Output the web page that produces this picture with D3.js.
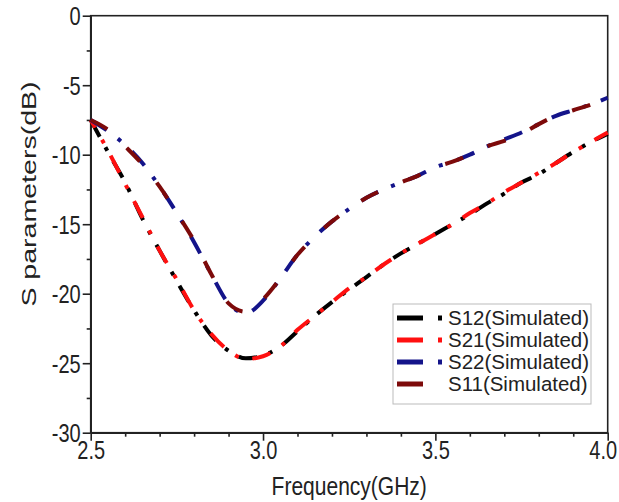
<!DOCTYPE html>
<html>
<head>
<meta charset="utf-8">
<script src="https://cdn.jsdelivr.net/npm/d3@7"></script>
<style>
  html, body { margin: 0; padding: 0; background: #fff; }
  svg { display: block; }
  text { font-family: "Liberation Sans", Arial, sans-serif; fill: #222; }
</style>
</head>
<body>
<svg id="chart" width="619" height="502"></svg>
<script>
// ---- data ----
const freq = [2.50, 2.55, 2.60, 2.65, 2.70, 2.75, 2.80, 2.85, 2.90, 2.95, 3.00,
              3.05, 3.10, 3.15, 3.20, 3.25, 3.30, 3.35, 3.40, 3.45, 3.50,
              3.55, 3.60, 3.65, 3.70, 3.75, 3.80, 3.85, 3.90, 3.95, 4.00];
const s12 = [-7.5, -9.8, -12.0, -14.6, -16.9, -19.1, -21.2, -23.0, -24.1, -24.65, -24.45,
             -23.8, -22.7, -21.6, -20.6, -19.7, -18.8, -17.9, -17.1, -16.4, -15.7,
             -15.0, -14.3, -13.5, -12.8, -12.0, -11.4, -10.6, -9.8, -9.1, -8.5];
const s21 = [-7.5, -9.7, -12.1, -14.5, -16.9, -19.0, -21.2, -22.9, -24.1, -24.7, -24.5,
             -23.8, -22.6, -21.6, -20.6, -19.6, -18.8, -17.9, -17.1, -16.4, -15.7,
             -15.0, -14.2, -13.5, -12.7, -12.0, -11.3, -10.6, -9.8, -9.1, -8.4];
const s22 = [-7.5, -8.3, -9.3, -10.6, -12.3, -14.2, -16.3, -18.6, -20.7, -21.4, -20.5,
             -18.9, -17.2, -15.9, -14.8, -13.9, -13.1, -12.5, -12.0, -11.5, -10.9,
             -10.5, -10.0, -9.4, -8.9, -8.4, -7.8, -7.2, -6.8, -6.4, -5.9];
const s11 = [-7.5, -8.2, -9.4, -10.7, -12.3, -14.2, -16.2, -18.6, -20.7, -21.3, -20.4,
             -18.9, -17.2, -15.9, -14.8, -13.9, -13.1, -12.5, -12.0, -11.5, -10.9,
             -10.5, -10.0, -9.4, -9.0, -8.5, -7.8, -7.2, -6.8, -6.4, -5.9];
const seriesNames = ["S12(Simulated)", "S21(Simulated)", "S22(Simulated)", "S11(Simulated)"];
const xTicks = [2.5, 3.0, 3.5, 4.0];
const xTickLabels = ["2.5", "3.0", "3.5", "4.0"];
const xMinorTicks = [2.6, 2.7, 2.8, 2.9, 3.1, 3.2, 3.3, 3.4, 3.6, 3.7, 3.8, 3.9];
const yTicks = [0, -5, -10, -15, -20, -25, -30];
const yTickLabels = ["0", "-5", "-10", "-15", "-20", "-25", "-30"];
const yMinorTicks = [-2.5, -7.5, -12.5, -17.5, -22.5, -27.5];
const xTitle = "Frequency(GHz)";
const yTitle = "S parameters(dB)";

// ---- styles ----
const styles = [
  { color: "#000000", dash: "19,12,4,12", offset: 0 },
  { color: "#ff1010", dash: "19,14,4,14", offset: 10 },
  { color: "#14148a", dash: "19,14,4,15", offset: 0 },
  { color: "#7d0a0a", dash: "19,27", offset: 0 }
];
const legendDash = ["26,15,4,200", "26,15,4,200", "26,15,4,200", "26,200"];
const STRETCH = 1.25;

const svg = d3.select("#chart");
const mLeft = 90.7, mRight = 607.7, mTop = 15.7, mBottom = 432.7;
const x = d3.scaleLinear().domain([2.5, 4.0]).range([mLeft, mRight]);
const y = d3.scaleLinear().domain([-30, 0]).range([mBottom, mTop]);

// frame
svg.append("rect").attr("x", mLeft).attr("y", mTop)
  .attr("width", mRight - mLeft).attr("height", mBottom - mTop)
  .attr("fill", "none").attr("stroke", "#222").attr("stroke-width", 1.6);

// x axis
const gx = svg.append("g").attr("transform", `translate(0,${mBottom})`);
gx.call(d3.axisBottom(x).tickValues(xTicks).tickFormat((d, i) => xTickLabels[i]).tickSize(8).tickSizeOuter(0));
gx.append("g").call(d3.axisBottom(x).tickValues(xMinorTicks).tickFormat("").tickSize(4).tickSizeOuter(0));
gx.selectAll(".domain").attr("stroke", "#222").attr("stroke-width", 1.6);
gx.selectAll(".tick line").attr("stroke", "#222").attr("stroke-width", 1.6);
gx.selectAll(".tick text")
  .attr("y", 0).attr("dy", 0)
  .attr("transform", (d) => `translate(${d === 4.0 ? -5 : 0},${26}) scale(1,${STRETCH})`)
  .style("font-size", "20px").attr("fill", "#222");

// y axis
const gy = svg.append("g").attr("transform", `translate(${mLeft},0)`);
gy.call(d3.axisLeft(y).tickValues(yTicks).tickFormat((d, i) => yTickLabels[i]).tickSize(8).tickSizeOuter(0));
gy.append("g").call(d3.axisLeft(y).tickValues(yMinorTicks).tickFormat("").tickSize(4).tickSizeOuter(0));
gy.selectAll(".domain").attr("stroke", "#222").attr("stroke-width", 1.6);
gy.selectAll(".tick line").attr("stroke", "#222").attr("stroke-width", 1.6);
gy.selectAll(".tick text")
  .attr("x", 0).attr("dy", 0)
  .attr("transform", `translate(-10,9) scale(1,${STRETCH})`)
  .style("font-size", "20px").attr("fill", "#222");

// titles
svg.append("text").attr("transform", `translate(${(mLeft + mRight) / 2},${495}) scale(1,${STRETCH})`)
  .attr("text-anchor", "middle").style("font-size", "21px").text(xTitle);
svg.append("text").attr("transform", `translate(${36},${194}) rotate(-90) scale(1.36,1)`)
  .attr("text-anchor", "middle").style("font-size", "21px").text(yTitle);

// lines
const allSeries = [s12, s21, s22, s11];
const line = d3.line().x(d => x(d[0])).y(d => y(d[1])).curve(d3.curveMonotoneX);
allSeries.forEach((s, i) => {
  svg.append("path")
    .datum(freq.map((f, j) => [f, s[j]]))
    .attr("d", line)
    .attr("fill", "none")
    .attr("stroke", styles[i].color)
    .attr("stroke-width", 4)
    .attr("stroke-dasharray", styles[i].dash)
    .attr("stroke-dashoffset", styles[i].offset);
});

// legend
const lg = svg.append("g");
lg.append("rect").attr("x", 393).attr("y", 304).attr("width", 198).attr("height", 100)
  .attr("fill", "#fff").attr("stroke", "#bbb").attr("stroke-width", 1);
seriesNames.forEach((name, i) => {
  const cy = 318 + i * 22;
  lg.append("line").attr("x1", 397).attr("x2", 443).attr("y1", cy).attr("y2", cy)
    .attr("stroke", styles[i].color).attr("stroke-width", 5)
    .attr("stroke-dasharray", legendDash[i]);
  lg.append("text").attr("transform", `translate(448,${cy + 7}) scale(1.05,1.05)`)
    .style("font-size", "19.5px").text(name);
});
</script>
</body>
</html>
